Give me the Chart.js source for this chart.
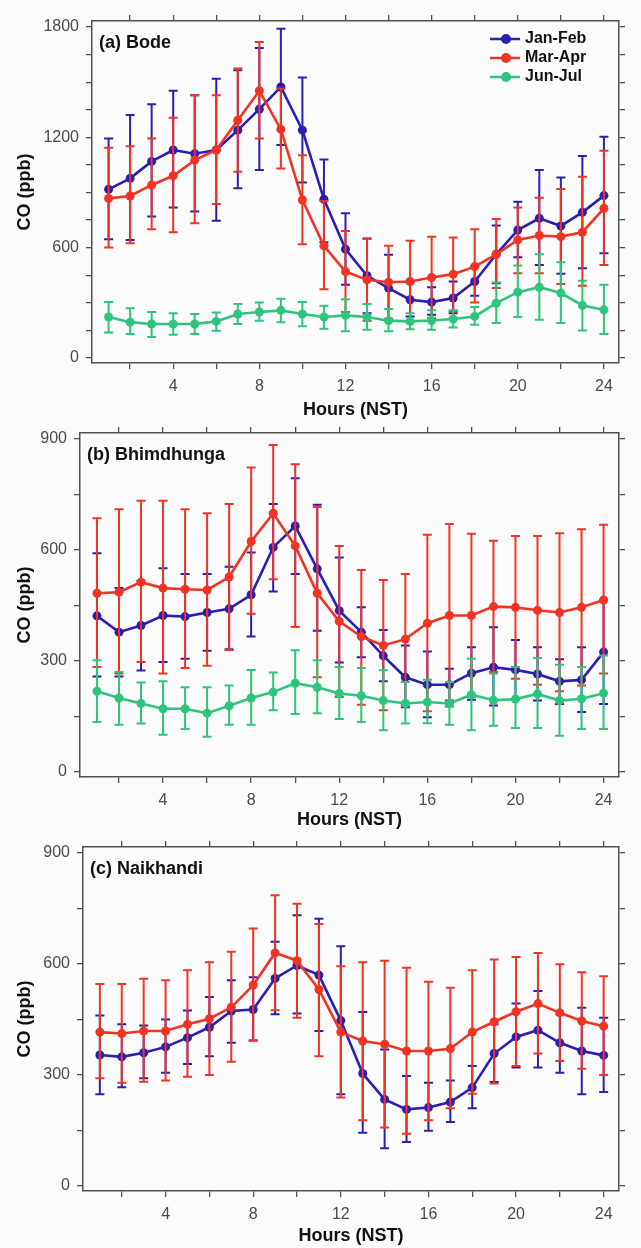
<!DOCTYPE html>
<html>
<head>
<meta charset="utf-8">
<title>Diurnal CO</title>
<script src="https://cdn.jsdelivr.net/npm/chart.js@4.4.1/dist/chart.umd.min.js"></script>
<style>
    html, body { margin: 0; padding: 0; background: #fbfbfb; }
    canvas { display: block; }
</style>
</head>
<body>
<canvas id="chartBode" width="641" height="419"></canvas>
<canvas id="chartBhim" width="641" height="412"></canvas>
<canvas id="chartNai" width="641" height="417"></canvas>
<script>
// ==================== DATA ====================

const hours = [1, 2, 3, 4, 5, 6, 7, 8, 9, 10, 11, 12, 13, 14, 15, 16, 17, 18, 19, 20, 21, 22, 23, 24];
const seriesNames = ['Jan-Feb', 'Mar-Apr', 'Jun-Jul'];

// (a) Bode
const bodeJanFeb   = [917, 977, 1069, 1131, 1111, 1131, 1239, 1353, 1474, 1239, 863, 592, 447, 380, 317, 304, 326, 416, 564, 696, 760, 718, 792, 883];
const bodeJanFebLo = [646, 642, 769, 818, 796, 747, 923, 1022, 1158, 955, 630, 398, 244, 208, 225, 235, 244, 338, 407, 548, 506, 458, 488, 570];
const bodeJanFebHi = [1194, 1321, 1380, 1453, 1429, 1518, 1565, 1686, 1791, 1525, 1080, 787, 650, 561, 410, 385, 416, 497, 720, 850, 1022, 982, 1098, 1203];
const bodeMarApr   = [868, 881, 941, 991, 1076, 1131, 1293, 1453, 1243, 859, 610, 470, 425, 412, 416, 438, 456, 497, 564, 642, 666, 660, 684, 814];
const bodeMarAprLo = [601, 624, 700, 684, 733, 838, 1013, 1194, 1031, 619, 374, 250, 203, 213, 195, 217, 253, 302, 380, 461, 461, 403, 393, 506];
const bodeMarAprHi = [1143, 1152, 1194, 1306, 1429, 1429, 1574, 1719, 1465, 1103, 854, 691, 648, 611, 637, 660, 655, 700, 756, 818, 872, 919, 986, 1127];
const bodeJunJul   = [223, 195, 185, 185, 185, 199, 239, 250, 259, 239, 223, 232, 223, 203, 199, 204, 212, 226, 298, 358, 385, 353, 286, 262];
const bodeJunJulLo = [139, 130, 114, 127, 130, 148, 185, 203, 195, 172, 159, 145, 154, 145, 157, 154, 166, 181, 190, 223, 208, 190, 150, 130];
const bodeJunJulHi = [304, 271, 250, 244, 239, 248, 293, 302, 322, 304, 284, 320, 293, 266, 244, 259, 259, 277, 411, 503, 564, 521, 420, 398];

// (b) Bhimdhunga
const bhimJanFeb   = [422, 378, 396, 423, 420, 431, 441, 479, 607, 665, 549, 436, 378, 314, 256, 236, 236, 267, 283, 276, 265, 245, 249, 324];
const bhimJanFebLo = [258, 258, 274, 297, 306, 328, 332, 366, 488, 535, 382, 296, 310, 245, 175, 148, 193, 195, 180, 195, 193, 184, 162, 184];
const bhimJanFebHi = [591, 497, 517, 551, 535, 535, 555, 593, 724, 794, 722, 580, 445, 384, 342, 326, 279, 337, 391, 357, 337, 305, 337, 464];
const bhimMarApr   = [483, 486, 513, 497, 494, 492, 527, 623, 699, 611, 483, 407, 366, 342, 359, 402, 423, 423, 447, 445, 437, 431, 445, 465];
const bhimMarAprLo = [284, 266, 297, 266, 281, 287, 330, 428, 521, 392, 256, 203, 182, 167, 182, 164, 177, 203, 270, 252, 236, 218, 234, 266];
const bhimMarAprHi = [686, 710, 733, 733, 710, 699, 724, 823, 884, 832, 716, 611, 546, 519, 535, 641, 670, 644, 625, 638, 638, 645, 656, 668];
const bhimJunJul   = [218, 200, 185, 171, 171, 159, 179, 200, 216, 240, 229, 212, 206, 193, 185, 189, 185, 209, 194, 197, 211, 193, 198, 213];
const bhimJunJulLo = [135, 128, 131, 101, 116, 95, 128, 128, 167, 157, 159, 143, 135, 113, 131, 132, 128, 113, 125, 119, 119, 98, 116, 116];
const bhimJunJulHi = [302, 270, 242, 245, 229, 229, 234, 276, 269, 329, 302, 284, 281, 275, 243, 249, 243, 306, 266, 284, 308, 290, 284, 315];

// (c) Naikhandi
const naiJanFeb   = [354, 349, 360, 376, 401, 429, 473, 477, 561, 596, 570, 447, 304, 234, 207, 212, 227, 266, 358, 403, 421, 387, 365, 353];
const naiJanFebLo = [248, 267, 291, 306, 330, 351, 387, 393, 464, 466, 419, 248, 144, 102, 119, 149, 173, 210, 281, 320, 320, 306, 248, 254];
const naiJanFebHi = [461, 437, 434, 450, 474, 511, 556, 564, 660, 732, 722, 648, 470, 369, 297, 279, 285, 324, 437, 493, 527, 464, 482, 455];
const naiMarApr   = [416, 412, 419, 419, 437, 452, 483, 543, 630, 609, 531, 416, 392, 383, 365, 365, 371, 416, 444, 471, 493, 468, 446, 432];
const naiMarAprLo = [291, 279, 282, 285, 295, 300, 336, 393, 475, 455, 351, 239, 178, 158, 141, 178, 210, 249, 277, 324, 358, 338, 317, 300];
const naiMarAprHi = [546, 546, 560, 556, 583, 605, 633, 696, 786, 763, 708, 594, 605, 609, 590, 552, 536, 583, 612, 619, 630, 599, 578, 567];

// ==================== STYLE ====================

const seriesColors = ['#2a1fb3', '#f03424', '#2ec47c'];
const axisColor = '#505050';
const fontFamily = '"Liberation Sans", Arial, sans-serif';

// error bars are drawn right before their own line, so the line sits on top
const errorBars = {
    id: 'errorBars',
    beforeDatasetDraw(chart, args) {
        const ds = chart.data.datasets[args.index];
        if (!ds.errLo) return;
        const xs = chart.scales.x;
        const ys = chart.scales.y;
        const ctx = chart.ctx;
        ctx.save();
        ctx.strokeStyle = ds.borderColor;
        ctx.lineWidth = 2;
        ds.data.forEach((p, i) => {
            const px = xs.getPixelForValue(p.x);
            const lo = ys.getPixelForValue(ds.errLo[i]);
            const hi = ys.getPixelForValue(ds.errHi[i]);
            ctx.beginPath();
            ctx.moveTo(px, lo);
            ctx.lineTo(px, hi);
            ctx.moveTo(px - 4.5, lo);
            ctx.lineTo(px + 4.5, lo);
            ctx.moveTo(px - 4.5, hi);
            ctx.lineTo(px + 4.5, hi);
            ctx.stroke();
        });
        ctx.restore();
    }
};

// panel tag "(a) Bode" and the small key in the corner
const panelText = {
    id: 'panelText',
    afterDatasetsDraw(chart, args, opts) {
        const { ctx, chartArea } = chart;
        ctx.save();
        ctx.fillStyle = '#111';
        ctx.textBaseline = 'middle';
        ctx.font = 'bold 18px ' + fontFamily;
        ctx.fillText(opts.label, chartArea.left + 7, chartArea.top + 22);

        if (opts.legend) {
            ctx.font = 'bold 16px ' + fontFamily;
            chart.data.datasets.forEach((ds, i) => {
                const yy = chartArea.top + 18 + i * 19;
                const x0 = chartArea.right - 129;
                ctx.strokeStyle = ds.borderColor;
                ctx.lineWidth = 2.5;
                ctx.beginPath();
                ctx.moveTo(x0, yy);
                ctx.lineTo(x0 + 30, yy);
                ctx.stroke();
                ctx.fillStyle = ds.borderColor;
                ctx.beginPath();
                ctx.arc(x0 + 16, yy, 5, 0, Math.PI * 2);
                ctx.fill();
                ctx.fillStyle = '#111';
                ctx.fillText(ds.label, x0 + 35, yy);
            });
        }
        ctx.restore();
    }
};

// pin the size of each axis box so the plot frame lands where it should
function fixSize(w, h) {
    return (scale) => {
        if (w !== null) scale.width = w;
        if (h !== null) scale.height = h;
        scale.paddingLeft = 0;
        scale.paddingRight = 0;
        scale.paddingTop = 0;
        scale.paddingBottom = 0;
    };
}

function buildScales(p) {
    const grid = { drawOnChartArea: false, tickLength: 6, color: axisColor, lineWidth: 1.3 };
    const border = { color: axisColor, width: 1.5 };
    const tickFont = { family: fontFamily, size: 16 };
    const titleFont = { family: fontFamily, size: 18, weight: 'bold' };
    const xMin = 0.23, xMax = 24.7;

    return {
        x: {
            type: 'linear', position: 'bottom', min: xMin, max: xMax, grid, border,
            ticks: {
                stepSize: 2, includeBounds: false, autoSkip: false, maxRotation: 0,
                padding: 8, color: '#4a4a4a', font: tickFont,
                callback: v => (v % 4 === 0 ? String(v) : '')
            },
            title: { display: true, text: 'Hours (NST)', color: '#111', font: titleFont, padding: { top: 0, bottom: p.xTitlePad } },
            afterFit: fixSize(null, p.bottom)
        },
        xTop: {
            type: 'linear', position: 'top', min: xMin, max: xMax, grid, border,
            ticks: { stepSize: 2, includeBounds: false, display: false },
            afterFit: fixSize(null, p.top)
        },
        y: {
            type: 'linear', position: 'left', min: p.yMin, max: p.yMax, grid, border,
            ticks: {
                stepSize: 150, includeBounds: false, autoSkip: false,
                padding: 7, color: '#4a4a4a', font: tickFont,
                callback: v => (v % p.labelStep === 0 ? String(v) : '')
            },
            title: { display: true, text: 'CO (ppb)', color: '#111', font: titleFont, padding: { top: 14, bottom: 0 } },
            afterFit: fixSize(p.left, null)
        },
        yRight: {
            type: 'linear', position: 'right', min: p.yMin, max: p.yMax, grid, border,
            ticks: { stepSize: 150, includeBounds: false, display: false },
            afterFit: fixSize(p.right, null)
        }
    };
}

// ==================== PANELS ====================

const panels = [
    {
        canvas: 'chartBode', label: '(a) Bode', legend: true,
        yMin: -27.2, yMax: 1832.6, labelStep: 600,
        top: 21, bottom: 56, left: 92, right: 22, xTitlePad: -2,
        series: [
            [bodeJanFeb, bodeJanFebLo, bodeJanFebHi],
            [bodeMarApr, bodeMarAprLo, bodeMarAprHi],
            [bodeJunJul, bodeJunJulLo, bodeJunJulHi]
        ]
    },
    {
        canvas: 'chartBhim', label: '(b) Bhimdhunga', legend: false,
        yMin: -13.5, yMax: 916.2, labelStep: 300,
        top: 14, bottom: 54, left: 80, right: 22, xTitlePad: 0,
        series: [
            [bhimJanFeb, bhimJanFebLo, bhimJanFebHi],
            [bhimMarApr, bhimMarAprLo, bhimMarAprHi],
            [bhimJunJul, bhimJunJulLo, bhimJunJulHi]
        ]
    },
    {
        canvas: 'chartNai', label: '(c) Naikhandi', legend: false,
        yMin: -13.5, yMax: 916.2, labelStep: 300,
        top: 16, bottom: 57, left: 83, right: 22, xTitlePad: 1,
        series: [
            [naiJanFeb, naiJanFebLo, naiJanFebHi],
            [naiMarApr, naiMarAprLo, naiMarAprHi]
        ]
    }
];

panels.forEach(p => {
    const datasets = p.series.map(([vals, lo, hi], i) => ({
        label: seriesNames[i],
        data: hours.map((h, k) => ({ x: h, y: vals[k] })),
        errLo: lo,
        errHi: hi,
        borderColor: seriesColors[i],
        backgroundColor: seriesColors[i],
        borderWidth: 2.6,
        pointRadius: 4.5,
        pointBorderWidth: 0,
        pointBackgroundColor: seriesColors[i],
        tension: 0,
        order: 3 - i
    }));

    new Chart(document.getElementById(p.canvas), {
        type: 'line',
        data: { datasets },
        options: {
            responsive: false,
            animation: false,
            events: [],
            layout: { padding: 0, autoPadding: false },
            scales: buildScales(p),
            plugins: {
                legend: { display: false },
                tooltip: { enabled: false },
                panelText: { label: p.label, legend: p.legend }
            }
        },
        plugins: [errorBars, panelText]
    });
});
</script>
</body>
</html>
